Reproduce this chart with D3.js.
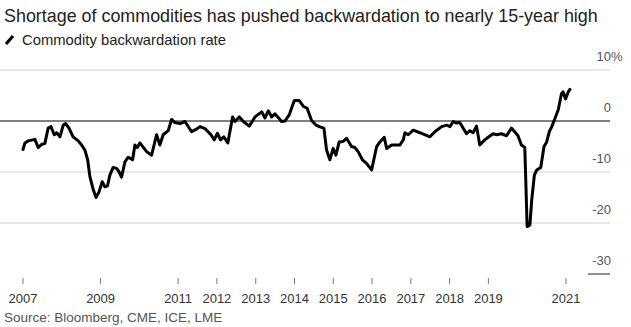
<!DOCTYPE html>
<html>
<head>
<meta charset="utf-8">
<script src="https://cdn.jsdelivr.net/npm/d3@7"></script>
<style>
  body { margin: 0; background: #fff; }
  text { font-family: "Liberation Sans", Arial, sans-serif; }
</style>
</head>
<body>
<div id="chart"></div>
<script>
// commodity backwardation rate, %
var dates = [
  "2007-01-01","2007-01-19","2007-02-19","2007-04-23","2007-05-24","2007-06-25","2007-07-26","2007-08-26",
  "2007-09-21","2007-10-22","2007-11-14","2007-12-15","2008-01-15","2008-02-07","2008-03-09","2008-04-17",
  "2008-06-04","2008-07-06","2008-08-06","2008-09-01","2008-09-22","2008-10-24","2008-11-19","2008-12-17",
  "2009-01-16","2009-02-10","2009-03-07","2009-03-29","2009-04-29","2009-05-31","2009-06-22","2009-07-17",
  "2009-08-18","2009-09-18","2009-10-29","2009-11-20","2009-12-12","2010-01-06","2010-03-10","2010-04-26",
  "2010-06-12","2010-07-13","2010-08-13","2010-09-30","2010-10-31","2010-12-01","2011-01-18","2011-03-06",
  "2011-05-08","2011-06-24","2011-07-26","2011-09-11","2011-11-06","2011-12-07","2012-01-06","2012-02-04",
  "2012-03-06","2012-04-13","2012-05-28","2012-06-19","2012-07-30","2012-09-06","2012-11-01","2012-12-25",
  "2013-02-26","2013-03-29","2013-04-29","2013-05-31","2013-06-30","2013-09-02","2013-10-03","2013-11-12",
  "2013-12-30","2014-02-15","2014-03-24","2014-04-30","2014-06-11","2014-07-22","2014-09-04","2014-10-05",
  "2014-10-30","2014-11-30","2014-12-31","2015-01-26","2015-02-26","2015-04-04","2015-05-06","2015-06-22",
  "2015-07-23","2015-08-23","2015-10-03","2015-11-10","2015-12-28","2016-02-14","2016-03-16","2016-04-25",
  "2016-05-18","2016-07-04","2016-09-20","2016-10-21","2016-11-06","2016-12-07","2017-01-23","2017-03-27",
  "2017-06-29","2017-08-15","2017-10-18","2017-12-04","2018-01-04","2018-02-04","2018-03-07","2018-04-07",
  "2018-06-09","2018-07-10","2018-08-10","2018-09-11","2018-10-12","2018-11-28","2018-12-30","2019-02-15",
  "2019-03-19","2019-05-05","2019-06-21","2019-08-06","2019-09-06","2019-10-07","2019-11-08","2019-12-10",
  "2020-01-01","2020-01-27","2020-02-13","2020-03-09","2020-04-01","2020-05-08","2020-06-08","2020-07-03",
  "2020-07-28","2020-08-20","2020-09-19","2020-10-20","2020-11-20","2020-12-05","2020-12-28","2021-01-22",
  "2021-02-07"
];
var values = [
  -5.6, -4.3, -3.9, -3.6, -5.2, -4.6, -4.4, -1.4,
  -1.1, -2.7, -2.3, -3.1, -0.8, -0.5, -1.4, -3.1,
  -3.9, -4.7, -5.7, -7.6, -10.9, -13.5, -15.0, -13.9,
  -11.9, -12.9, -12.7, -10.6, -9.1, -9.3, -9.9, -11.0,
  -8.0, -7.1, -7.6, -4.7, -5.2, -4.3, -6.0, -6.7,
  -2.7, -4.7, -2.7, -1.9, 0.3, -0.3, -0.5, -0.1,
  -2.1, -1.6, -1.1, -1.5, -2.7, -3.7, -2.4, -3.7,
  -3.1, -4.3, 0.8, -0.1, 0.8, -0.1, -1.0, 0.8,
  1.8, 0.6, 2.0, 0.8, 1.4, -0.1, 0.0, 1.2,
  4.0, 4.0, 2.9, 2.5, 0.1, -0.8, -1.2, -1.4,
  -5.7, -7.6, -5.4, -6.7, -4.1, -4.0, -3.4, -5.0,
  -5.2, -6.0, -7.6, -8.3, -9.6, -5.0, -4.1, -3.2,
  -5.4, -4.7, -4.7, -3.7, -2.3, -2.7, -1.8, -2.3,
  -3.1, -2.1, -1.1, -0.8, -1.1, -0.1, -0.4, -0.3,
  -2.5, -1.9, -2.3, -1.0, -4.7, -3.7, -3.2, -2.5,
  -2.7, -2.5, -2.9, -1.4, -2.1, -2.9, -4.7, -5.2,
  -20.7, -20.4, -15.5, -10.6, -9.6, -9.1, -5.0, -4.1,
  -2.1, -1.1, 0.5, 2.2, 5.4, 5.7, 4.3, 5.7,
  6.2
];
var yTicks = [10, 0, -10, -20, -30];
var xTickYears = [2007, 2009, 2011, 2012, 2013, 2014, 2015, 2016, 2017, 2018, 2019, 2021];

var title = "Shortage of commodities has pushed backwardation to nearly 15-year high";
var legendLabel = "Commodity backwardation rate";
var source = "Source: Bloomberg, CME, ICE, LME";

var width = 631, height = 327;
var parseDate = d3.timeParse("%Y-%m-%d");
var series = dates.map(function (d, i) { return { date: parseDate(d), value: values[i] }; });

var svg = d3.select("#chart").append("svg")
    .attr("width", width)
    .attr("height", height);

var xScale = d3.scaleTime()
    .domain([new Date(2007, 0, 1), new Date(2021, 0, 1)])
    .range([23, 566]);

var yScale = d3.scaleLinear()
    .domain([-30, 10])
    .range([274, 70]);

var gridRight = 610;

// title + legend
svg.append("text")
    .attr("x", 4).attr("y", 22)
    .attr("font-size", 17.9)
    .attr("fill", "#222")
    .text(title);

svg.append("line")
    .attr("x1", 6).attr("y1", 44).attr("x2", 13).attr("y2", 36)
    .attr("stroke", "#000").attr("stroke-width", 3.2);

svg.append("text")
    .attr("x", 22).attr("y", 45)
    .attr("font-size", 14.8)
    .attr("fill", "#222")
    .text(legendLabel);

// horizontal grid
var grid = svg.append("g").attr("id", "grid");
grid.selectAll("line")
    .data(yTicks.filter(function (d) { return d != 0 && d != -30; }))
    .enter().append("line")
    .attr("x1", 0).attr("x2", gridRight)
    .attr("y1", function (d) { return yScale(d); })
    .attr("y2", function (d) { return yScale(d); })
    .attr("stroke", "#e0e0e0").attr("stroke-width", 1.5);

// bottom marker under -30
svg.append("line")
    .attr("x1", 588).attr("x2", gridRight)
    .attr("y1", yScale(-30)).attr("y2", yScale(-30))
    .attr("stroke", "#444").attr("stroke-width", 1.2);

// y labels sit above their gridline, "%" hangs past the right edge
var yLabels = svg.append("g").attr("id", "yLabels");
yTicks.forEach(function (d) {
    yLabels.append("text")
        .attr("x", 611).attr("y", yScale(d) - 9)
        .attr("text-anchor", "end")
        .attr("font-size", 13)
        .attr("fill", "#555")
        .text(d);
    if (d == 10) {
        yLabels.append("text")
            .attr("x", 611).attr("y", yScale(d) - 9)
            .attr("font-size", 13)
            .attr("fill", "#555")
            .text("%");
    }
});

// x axis: ticks + year labels
var xAxis = svg.append("g").attr("id", "xAxis");
xAxis.selectAll("line")
    .data(xTickYears)
    .enter().append("line")
    .attr("x1", function (d) { return xScale(new Date(d, 0, 1)); })
    .attr("x2", function (d) { return xScale(new Date(d, 0, 1)); })
    .attr("y1", 278).attr("y2", 284)
    .attr("stroke", "#777").attr("stroke-width", 1);

xAxis.selectAll("text")
    .data(xTickYears)
    .enter().append("text")
    .attr("x", function (d) { return xScale(new Date(d, 0, 1)); })
    .attr("y", 303)
    .attr("text-anchor", "middle")
    .attr("font-size", 13)
    .attr("fill", "#333")
    .text(function (d) { return d; });

// zero line
svg.append("line")
    .attr("x1", 0).attr("x2", gridRight)
    .attr("y1", yScale(0)).attr("y2", yScale(0))
    .attr("stroke", "#000").attr("stroke-width", 1);

// the series
var line = d3.line()
    .x(function (d) { return xScale(d.date); })
    .y(function (d) { return yScale(d.value); });

svg.append("path")
    .datum(series)
    .attr("d", line)
    .attr("fill", "none")
    .attr("stroke", "#000")
    .attr("stroke-width", 3)
    .attr("stroke-linejoin", "round")
    .attr("stroke-linecap", "round");

svg.append("text")
    .attr("x", 4).attr("y", 322)
    .attr("font-size", 13.5)
    .attr("fill", "#555")
    .text(source);
</script>
</body>
</html>
